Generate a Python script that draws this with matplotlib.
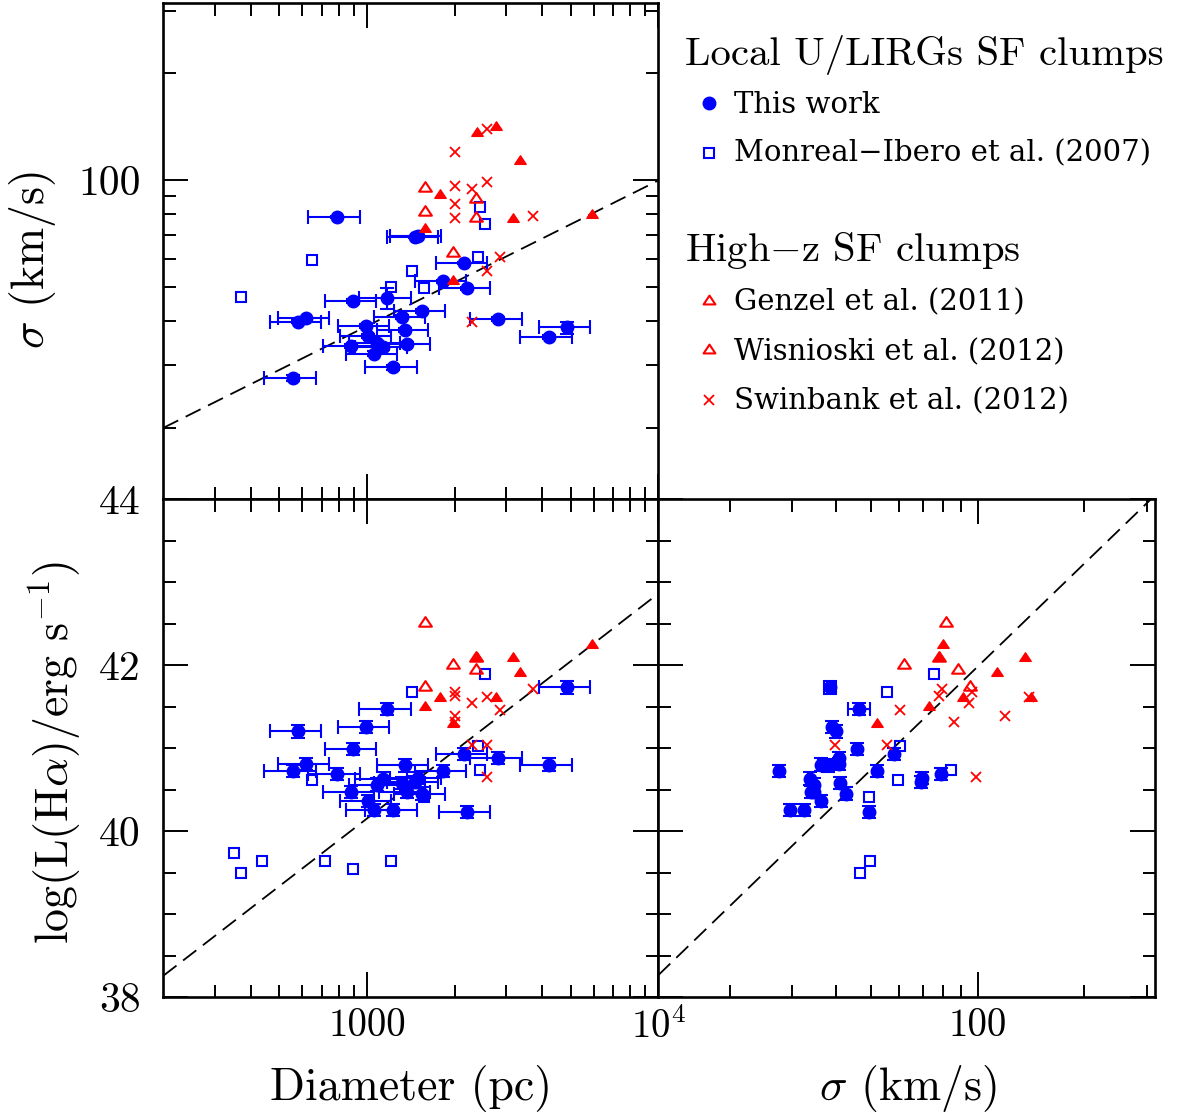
import numpy as np
import matplotlib
matplotlib.use('Agg')
import matplotlib.pyplot as plt
from matplotlib.path import Path
from matplotlib.ticker import FixedLocator, FixedFormatter, NullFormatter

plt.rcParams['font.family'] = 'cmr10'
plt.rcParams['mathtext.fontset'] = 'cm'
plt.rcParams['axes.formatter.use_mathtext'] = True
plt.rcParams['lines.scale_dashes'] = False

# ---------------- data ----------------
# This work (local U/LIRG clumps): diameter (pc), sigma (km/s), log L(Halpha)
D_tw = [788, 1464, 1502, 2157, 1822, 2203, 898, 1176, 579, 618, 1543, 1317, 993,
        1352, 2828, 4857, 4199, 1012, 1081, 1139, 1061, 880, 1371, 1233, 556]
D_tw_err = [158, 293, 300, 431, 364, 441, 180, 235, 116, 124, 309, 263, 199,
            270, 566, 971, 840, 202, 216, 228, 212, 176, 274, 247, 111]
sig_tw = [78.9, 69.2, 69.6, 58.3, 51.9, 49.5, 45.6, 46.4, 39.9, 40.7, 42.7, 41.0, 38.8,
          37.8, 40.6, 38.4, 36.1, 36.3, 34.6, 33.7, 32.4, 34.0, 34.5, 29.6, 27.6]
sig_tw_err = [0.5, 0.5, 0.5, 0.5, 0.5, 0.5, 0.5, 3.2, 0.5, 0.5, 0.5, 0.5, 0.5,
              0.5, 0.5, 1.5, 0.5, 0.5, 0.5, 0.5, 0.5, 0.5, 0.5, 0.5, 0.5]
L_tw = [40.69, 40.59, 40.64, 40.93, 40.72, 40.23, 40.99, 41.47, 41.20, 40.81, 40.45, 40.58, 41.25,
        40.79, 40.88, 41.73, 40.80, 40.36, 40.56, 40.63, 40.25, 40.47, 40.47, 40.25, 40.72]
L_tw_err = [0.075] * 25

# Monreal-Ibero et al. (2007)
D_mi = [370, 647, 1426, 1210, 1575, 2399, 2447, 2545, 350, 435, 718, 898]
sig_mi = [46.7, 59.5, 55.5, 49.8, 49.5, 60.6, 84.2, 75.2, np.nan, np.nan, np.nan, np.nan]
L_mi = [39.49, 40.61, 41.67, 39.64, 40.41, 41.03, 40.73, 41.89, 39.73, 39.64, 39.64, 39.54]

# Genzel et al. (2011)
D_ge = [1584, 2370, 1584, 2370, 1981]
sig_ge = [95.2, 88.3, 81.5, 78.0, 62.2]
L_ge = [41.73, 41.94, 42.51, 42.08, 42.00]

# Wisnioski et al. (2012)
D_wi = [2384, 2777, 3357, 1783, 3170, 5919, 1584, 1981]
sig_wi = [136.1, 141.0, 113.3, 90.8, 77.7, 79.7, 72.8, 52.0]
L_wi = [42.08, 41.60, 41.90, 41.60, 42.09, 42.24, 41.50, 41.29]

# Swinbank et al. (2012)
D_sw = [2580, 2008, 2008, 2291, 2580, 2008, 2008, 3729, 2867, 2580, 2291]
sig_sw = [139.2, 119.8, 96.3, 94.4, 99.0, 85.6, 78.0, 79.2, 60.6, 55.5, 39.7]
L_sw = [41.62, 41.39, 41.67, 41.54, 40.65, 41.31, 41.63, 41.71, 41.46, 41.04, 41.04]

# dashed relations: (intercept, slope) in log space
fit_sig_D = (0.355, 0.411)    # log sigma = a + b log D
fit_L_D = (32.02, 2.71)       # log L = a + b log D
fit_L_sig = (33.72, 4.13)     # log L = a + b log sigma

D_lim = (200, 1e4)
sig_lim = (10 ** 1.1, 10 ** 2.5)
L_lim = (38, 44)

# ---------------- figure ----------------
W, H = 1184, 1118
fig = plt.figure(figsize=(W / 100, H / 100), dpi=100)


def rect(x0, y0, x1, y1):
    return [x0 / W, 1 - y1 / H, (x1 - x0) / W, (y1 - y0) / H]


ax1 = fig.add_axes(rect(163.3, 3, 658.3, 499))
ax2 = fig.add_axes(rect(163.3, 499, 658.3, 997))
ax3 = fig.add_axes(rect(658.3, 499, 1155, 997))

BLUE = '#0000ff'
RED = '#ff0000'
TRI = Path([(-1, -0.5), (1, -0.5), (0, 1), (-1, -0.5)],
           [Path.MOVETO, Path.LINETO, Path.LINETO, Path.CLOSEPOLY])

D_minor = [300, 400, 500, 600, 700, 800, 900, 2000, 3000, 4000, 5000, 6000, 7000, 8000, 9000]
sig_minor = [20, 30, 40, 50, 60, 70, 80, 90, 200, 300]
L_minor = list(np.arange(38.5, 44, 0.5))


def style(ax):
    for s in ax.spines.values():
        s.set_linewidth(1.9)
    ax.tick_params(which='both', direction='in', top=True, right=True, width=1.4)
    ax.tick_params(which='major', length=18)
    ax.tick_params(which='minor', length=9)
    ax.tick_params(axis='y', which='major', labelsize=30, pad=16)
    ax.tick_params(axis='x', which='major', labelsize=28, pad=8)


def draw(ax, x_tw, y_tw, xe, ye, x_mi, y_mi, x_ge, y_ge, x_wi, y_wi, x_sw, y_sw):
    ax.plot(x_mi, y_mi, ls='none', marker='s', ms=7, mfc='none', mec=BLUE, mew=1.5, zorder=3)
    ax.errorbar(x_tw, y_tw, xerr=xe, yerr=ye, fmt='o', color=BLUE, ms=9,
                elinewidth=1.5, capsize=5.2, capthick=1.5, zorder=4)
    ax.plot(x_ge, y_ge, ls='none', marker=TRI, ms=9.2, mfc='none', mec=RED, mew=1.5, zorder=5)
    ax.plot(x_wi, y_wi, ls='none', marker=TRI, ms=8.2, mfc=RED, mec=RED, mew=1, zorder=5)
    ax.plot(x_sw, y_sw, ls='none', marker='x', ms=7.3, mec=RED, mew=1.3, zorder=6)


# Panel 1: sigma vs D
draw(ax1, D_tw, sig_tw, D_tw_err, sig_tw_err, D_mi, sig_mi, D_ge, sig_ge, D_wi, sig_wi, D_sw, sig_sw)
lx = np.linspace(np.log10(D_lim[0]), np.log10(D_lim[1]), 50)
ax1.plot(10 ** lx, 10 ** (fit_sig_D[0] + fit_sig_D[1] * lx), color='k', lw=1.3, dashes=(12, 6), zorder=2)
ax1.set_xscale('log'); ax1.set_yscale('log')
ax1.set_xlim(*D_lim); ax1.set_ylim(*sig_lim)
ax1.xaxis.set_major_locator(FixedLocator([1000, 10000]))
ax1.xaxis.set_minor_locator(FixedLocator(D_minor))
ax1.xaxis.set_major_formatter(NullFormatter()); ax1.xaxis.set_minor_formatter(NullFormatter())
ax1.yaxis.set_major_locator(FixedLocator([100]))
ax1.yaxis.set_minor_locator(FixedLocator(sig_minor))
ax1.yaxis.set_major_formatter(FixedFormatter(['100'])); ax1.yaxis.set_minor_formatter(NullFormatter())
style(ax1)

# Panel 2: L vs D
draw(ax2, D_tw, L_tw, D_tw_err, L_tw_err, D_mi, L_mi, D_ge, L_ge, D_wi, L_wi, D_sw, L_sw)
ax2.plot(10 ** lx, fit_L_D[0] + fit_L_D[1] * lx, color='k', lw=1.3, dashes=(12, 6), zorder=2)
ax2.set_xscale('log')
ax2.set_xlim(*D_lim); ax2.set_ylim(*L_lim)
ax2.xaxis.set_major_locator(FixedLocator([1000, 10000]))
ax2.xaxis.set_minor_locator(FixedLocator(D_minor))
ax2.xaxis.set_major_formatter(FixedFormatter(['1000', r'$10^4$'])); ax2.xaxis.set_minor_formatter(NullFormatter())
ax2.yaxis.set_major_locator(FixedLocator([38, 40, 42, 44]))
ax2.yaxis.set_minor_locator(FixedLocator(L_minor))
ax2.yaxis.set_major_formatter(FixedFormatter(['38', '40', '42', '44']))
style(ax2)

# Panel 3: L vs sigma
draw(ax3, sig_tw, L_tw, sig_tw_err, L_tw_err, sig_mi, L_mi, sig_ge, L_ge, sig_wi, L_wi, sig_sw, L_sw)
ls_ = np.linspace(np.log10(sig_lim[0]), np.log10(sig_lim[1]), 50)
ax3.plot(10 ** ls_, fit_L_sig[0] + fit_L_sig[1] * ls_, color='k', lw=1.3, dashes=(12, 6), zorder=2)
ax3.set_xscale('log')
ax3.set_xlim(*sig_lim); ax3.set_ylim(*L_lim)
ax3.xaxis.set_major_locator(FixedLocator([100]))
ax3.xaxis.set_minor_locator(FixedLocator(sig_minor))
ax3.xaxis.set_major_formatter(FixedFormatter(['100'])); ax3.xaxis.set_minor_formatter(NullFormatter())
ax3.yaxis.set_major_locator(FixedLocator([38, 40, 42, 44]))
ax3.yaxis.set_minor_locator(FixedLocator(L_minor))
ax3.yaxis.set_major_formatter(NullFormatter())
style(ax3)

# axis labels


def fx(x):
    return x / W


def fy(y):
    return 1 - y / H


fig.text(fx(411), fy(1088), 'Diameter (pc)', ha='center', va='center', fontsize=33)
fig.text(fx(908), fy(1088), r'$\sigma$ (km/s)', ha='center', va='center', fontsize=33)
fig.text(fx(33), fy(260), r'$\sigma$ (km/s)', ha='center', va='center', fontsize=33, rotation=90)
fig.text(fx(55), fy(753), r'log(L(H$\alpha$)/erg s$^{-1}$)', ha='center', va='center',
         fontsize=33, rotation=90)

# legend block (top-right)
axl = fig.add_axes([0, 0, 1, 1])
axl.set_xlim(0, W); axl.set_ylim(H, 0); axl.axis('off')
axl.text(685, 65, 'Local U/LIRGs SF clumps', fontsize=29.3, ha='left', va='baseline')
axl.text(685, 260.7, r'High$-$z SF clumps', fontsize=29.3, ha='left', va='baseline')
entries = [
    (103.3, 113.3, 'This work', dict(marker='o', ms=9, mfc=BLUE, mec=BLUE)),
    (153.3, 161.7, 'Monreal\u2212Ibero et al. (2007)', dict(marker='s', ms=7, mfc='none', mec=BLUE, mew=1.5)),
    (301.0, 310.7, 'Genzel et al. (2011)', dict(marker=TRI, ms=8.5, mfc='none', mec=RED, mew=1.5)),
    (350.0, 360.0, 'Wisnioski et al. (2012)', dict(marker=TRI, ms=8.5, mfc='none', mec=RED, mew=1.5)),
    (400.0, 409.3, 'Swinbank et al. (2012)', dict(marker='x', ms=7, mec=RED, mew=1.3)),
]
for ym, yb, label, mk in entries:
    axl.plot([709], [ym], ls='none', **mk)
    axl.text(734, yb, label, fontsize=21, family='DejaVu Serif', ha='left', va='baseline')

fig.savefig('out.png', dpi=100)
